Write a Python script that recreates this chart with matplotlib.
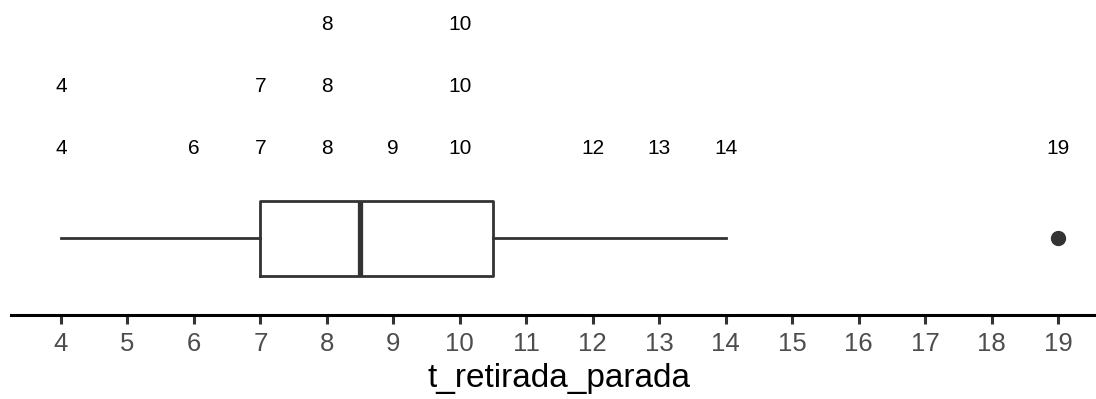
import matplotlib
matplotlib.use('Agg')
import matplotlib.pyplot as plt
import numpy as np
from collections import Counter

plt.rcParams['font.family'] = ['Liberation Sans', 'DejaVu Sans']

# valores observados de t_retirada_parada
t_retirada_parada = [4, 4, 6, 7, 7, 8, 8, 8, 9, 10, 10, 10, 12, 13, 14, 19]
ticks = list(range(4, 20))

fig = plt.figure(figsize=(10.96, 3.99), dpi=100)
ax = fig.add_axes([11 / 1096, 84 / 399, 1097 / 1096, 315 / 399])

# boxplot horizontal (quantis tipo 7, como no R)
ax.boxplot(t_retirada_parada, vert=False, positions=[0], widths=75,
           whis=1.5, manage_ticks=False,
           boxprops=dict(color='#333333', linewidth=2.0),
           whiskerprops=dict(color='#333333', linewidth=2.0),
           capprops=dict(linewidth=0),
           medianprops=dict(color='#333333', linewidth=3.8),
           flierprops=dict(marker='o', markerfacecolor='#333333',
                           markeredgecolor='#333333', markersize=10))

# numeros empilhados acima do box
cont = Counter(t_retirada_parada)
for v, n in cont.items():
    for k in range(n):
        ax.text(v, 90 + 62 * k, str(v), ha='center', va='center',
                fontsize=15, color='black')

ax.set_xlim(3.25, 19.75)
ax.set_ylim(-77, 238)
ax.set_yticks([])
ax.set_xticks(ticks)
ax.tick_params(axis='x', length=6.5, width=2.2, color='#333333',
               labelsize=18.5, labelcolor='#4D4D4D', pad=5.5)
for s in ['top', 'right', 'left']:
    ax.spines[s].set_visible(False)
ax.spines['bottom'].set_linewidth(2.2)
ax.spines['bottom'].set_color('black')
ax.set_xlabel('t_retirada_parada', fontsize=24, labelpad=5)

fig.savefig('out.png', dpi=100)
